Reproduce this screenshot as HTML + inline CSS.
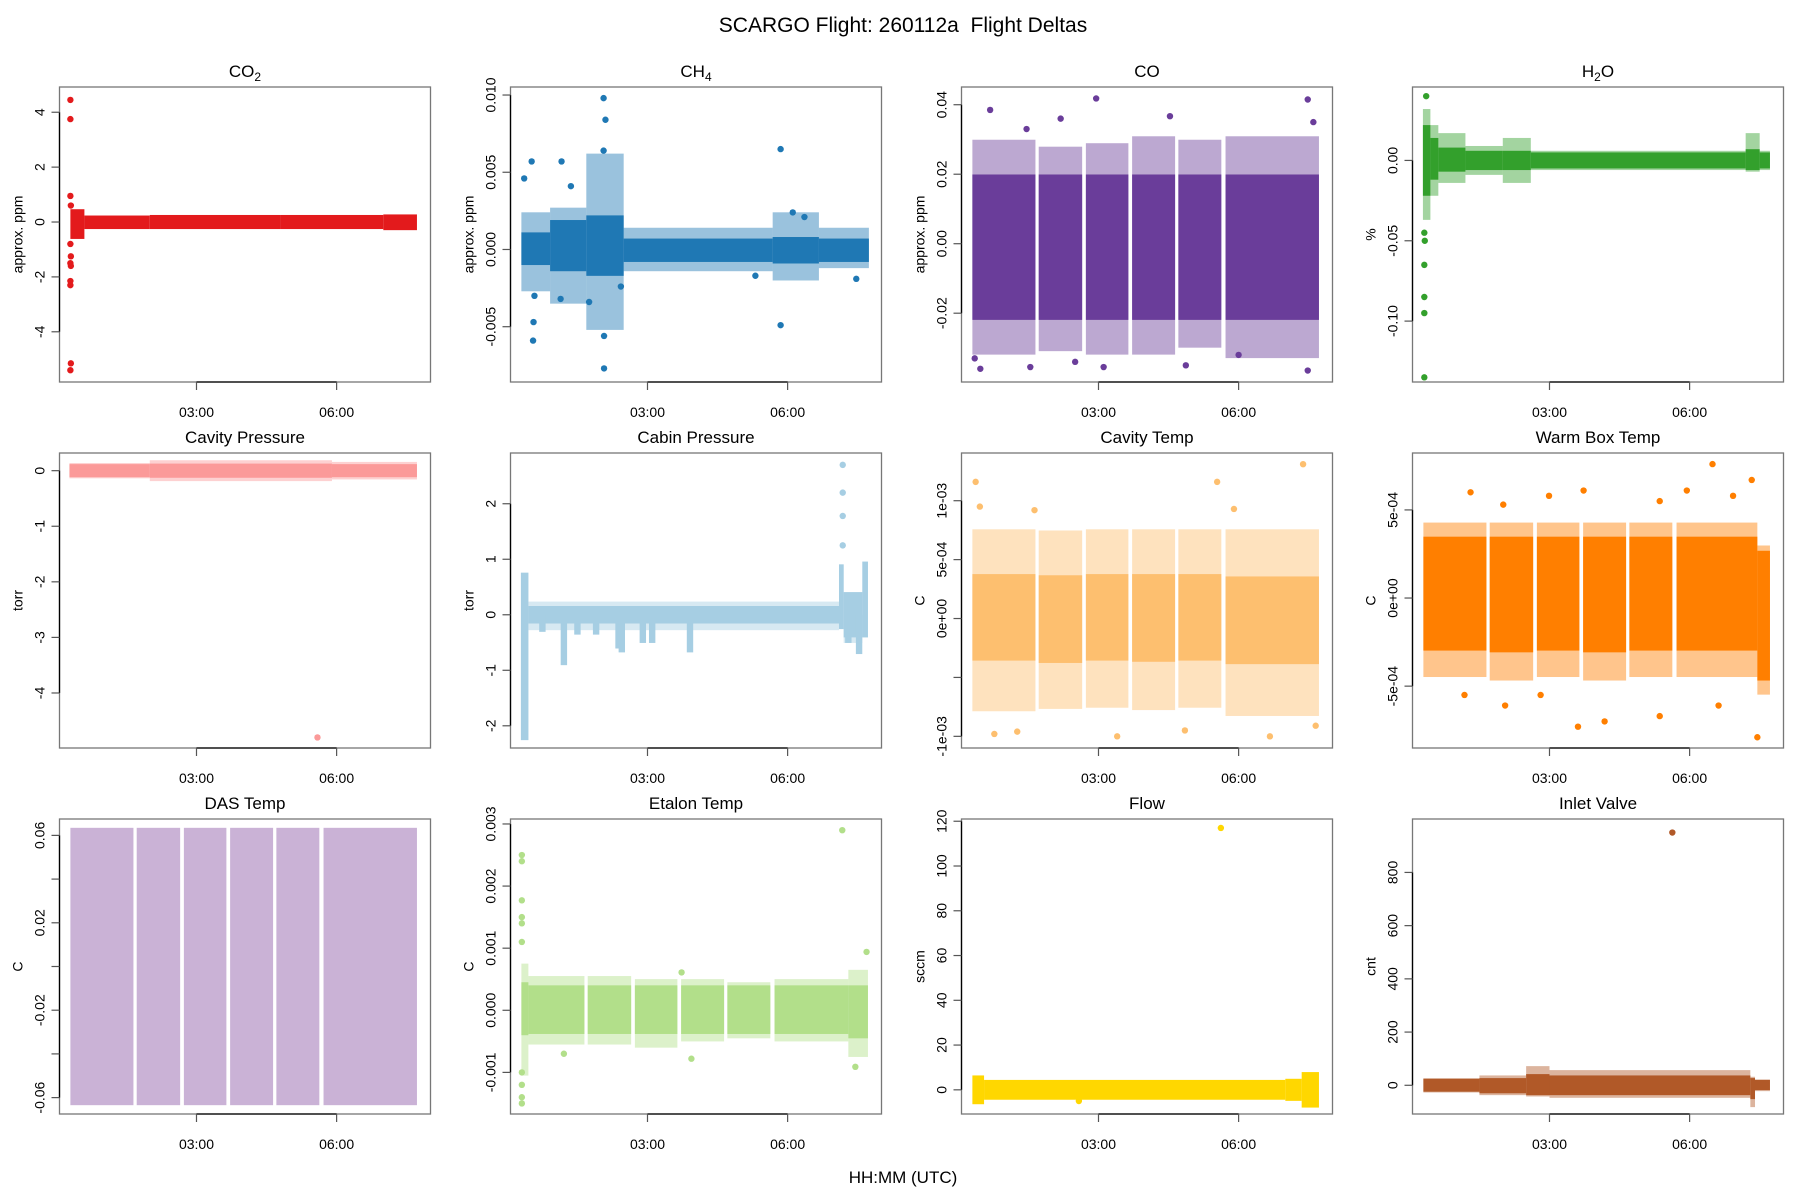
<!DOCTYPE html>
<html><head><meta charset="utf-8"><title>SCARGO Flight Deltas</title>
<style>
html,body{margin:0;padding:0;background:#fff;}
svg{display:block;font-family:"Liberation Sans",Arial,sans-serif;}
</style></head>
<body>
<svg id="chart" width="1800" height="1200" viewBox="0 0 1800 1200" xmlns="http://www.w3.org/2000/svg">
<rect width="1800" height="1200" fill="#fff"/>
<text x="903" y="32" font-size="21" text-anchor="middle">SCARGO Flight: 260112a&#160; Flight Deltas</text>
<text x="903" y="1183" font-size="17" text-anchor="middle">HH:MM (UTC)</text>
<g id="panels"></g>
</svg>
<script>
// ---------- shared data ----------
const xTickHours = [3, 6];
const xTickLabels = ["03:00", "06:00"];
const blockStart = [0.30, 1.72, 2.73, 3.72, 4.71, 5.72];
const blockEnd   = [1.65, 2.65, 3.64, 4.64, 5.63, 7.72];

// CO2
const co2Start=[0.30,0.60,2.0,4.8,7.0];
const co2End=[0.60,2.0,4.8,7.0,7.72];
const co2Lo=[-0.5,-0.14,-0.14,-0.14,-0.18];
const co2Hi=[0.35,0.12,0.14,0.14,0.16];
const co2OutT=[0.30,0.30,0.30,0.31,0.30,0.31,0.30,0.31,0.30,0.30,0.31,0.30];
const co2OutV=[4.45,3.75,0.95,0.6,-0.8,-1.25,-1.5,-1.6,-2.15,-2.3,-5.15,-5.4];
const co2Ticks=[4,2,0,-2,-4];
const co2TickLabels=["4","2","0","-2","-4"];

// CH4
const ch4Start=[0.30,0.915,1.69,2.49,5.68,6.67];
const ch4End=[0.915,1.69,2.49,5.68,6.67,7.74];
const ch4Lo=[-0.0008,-0.0012,-0.0015,-0.0006,-0.0007,-0.0006];
const ch4Hi=[0.0009,0.0017,0.0020,0.0005,0.0006,0.0005];
const ch4FrLo=[-0.0025,-0.0033,-0.0050,-0.0012,-0.0018,-0.0010];
const ch4FrHi=[0.0022,0.0025,0.0060,0.0012,0.0022,0.0012];
const ch4OutT=[0.52,0.55,0.56,0.36,1.16,2.06,2.10,2.07,2.07,5.85,5.85,0.58,1.14,1.36,2.06,1.75,2.43,7.47,5.31,6.11,6.36];
const ch4OutV=[0.0057,-0.0059,-0.0047,0.0046,0.0057,0.0098,0.0084,-0.0077,-0.0056,0.0065,-0.0049,-0.0030,-0.0032,0.0041,0.0064,-0.0034,-0.0024,-0.0019,-0.0017,0.0024,0.0021];
const ch4Ticks=[0.010,0.005,0.000,-0.005];
const ch4TickLabels=["0.010","0.005","0.000","-0.005"];

// CO
const coLo=[-0.021,-0.021,-0.021,-0.021,-0.021,-0.021];
const coHi=[0.019,0.019,0.019,0.019,0.019,0.019];
const coFrLo=[-0.031,-0.030,-0.031,-0.031,-0.029,-0.032];
const coFrHi=[0.029,0.027,0.028,0.030,0.029,0.030];
const coOutT=[0.68,2.95,4.53,7.48,2.19,0.35,0.47,3.11,4.87,7.48,1.54,2.50,7.60,1.46,6.00];
const coOutV=[0.0385,0.0418,0.0367,0.0415,0.036,-0.033,-0.036,-0.0355,-0.035,-0.0365,-0.0355,-0.034,0.035,0.033,-0.032];
const coTicks=[0.04,0.02,0.00,-0.02];
const coTickLabels=["0.04","0.02","0.00","-0.02"];

// H2O
const h2oStart=[0.29,0.45,0.62,1.2,2.0,2.6,7.2,7.5];
const h2oEnd=[0.45,0.62,1.2,2.0,2.6,7.2,7.5,7.72];
const h2oLo=[-0.02,-0.01,-0.005,-0.004,-0.004,-0.003,-0.004,-0.003];
const h2oHi=[0.02,0.012,0.006,0.004,0.004,0.003,0.005,0.003];
const h2oFrLo=[-0.035,-0.02,-0.012,-0.007,-0.012,-0.004,-0.005,-0.004];
const h2oFrHi=[0.03,0.02,0.015,0.007,0.012,0.004,0.015,0.004];
const h2oOutT=[0.33,0.32,0.32,0.32,0.32,0.32,0.36];
const h2oOutV=[-0.05,-0.065,-0.085,-0.095,-0.135,-0.045,0.04];
const h2oTicks=[0.00,-0.05,-0.10];
const h2oTickLabels=["0.00","-0.05","-0.10"];

// Cavity pressure
const cpStart=[0.28,2.0,5.9];
const cpEnd=[2.0,5.9,7.72];
const cpLo=[-0.06,-0.07,-0.06];
const cpHi=[0.06,0.07,0.06];
const cpFrLo=[-0.08,-0.13,-0.1];
const cpFrHi=[0.08,0.13,0.1];
const cpOutT=[5.59];
const cpOutV=[-4.80];
const cpTicks=[0,-1,-2,-3,-4];
const cpTickLabels=["0","-1","-2","-3","-4"];

// Cabin pressure
const cabStart=[0.29,0.45,7.1,7.2,7.6];
const cabEnd=[0.45,7.1,7.2,7.6,7.72];
const cabLo=[-2.2,-0.1,-0.2,-0.35,-0.35];
const cabHi=[0.7,0.1,0.85,0.35,0.9];
const cabFrLo=[-2.2,-0.22,-0.2,-0.45,-0.35];
const cabFrHi=[0.7,0.18,0.85,0.35,0.9];
const cabSpikeT=[1.21,1.50,2.38,2.45,2.90,3.10,3.91,7.53,7.30,0.75,1.9];
const cabSpikeV=[-0.85,-0.3,-0.55,-0.62,-0.45,-0.45,-0.62,-0.65,-0.45,-0.25,-0.3];
const cabOutT=[7.18,7.18,7.18,7.18];
const cabOutV=[2.7,2.2,1.78,1.25];
const cabTicks=[2,1,0,-1,-2];
const cabTickLabels=["2","1","0","-1","-2"];

// Cavity temp
const ctLo=[-3.3e-4,-3.5e-4,-3.3e-4,-3.4e-4,-3.3e-4,-3.6e-4];
const ctHi=[3.5e-4,3.4e-4,3.5e-4,3.5e-4,3.5e-4,3.3e-4];
const ctFrLo=[-7.6e-4,-7.4e-4,-7.3e-4,-7.5e-4,-7.3e-4,-8.0e-4];
const ctFrHi=[7.3e-4,7.2e-4,7.3e-4,7.3e-4,7.3e-4,7.3e-4];
const ctOutT=[0.37,7.38,5.54,0.77,3.40,1.26,6.67,4.85,5.90,1.63,0.46,7.65];
const ctOutV=[1.16e-3,1.31e-3,1.16e-3,-9.8e-4,-1.0e-3,-9.6e-4,-1.0e-3,-9.5e-4,9.3e-4,9.2e-4,9.5e-4,-9.1e-4];
const ctTicks=[1e-3,5e-4,0,-5e-4,-1e-3];
const ctTickLabels=["1e-03","5e-04","0e+00","","-1e-03"];

// Warm box temp
const wbStart=[0.30,1.72,2.73,3.72,4.71,5.72,7.45];
const wbEnd=[1.65,2.65,3.64,4.64,5.63,7.45,7.72];
const wbLo=[-2.8e-4,-2.9e-4,-2.8e-4,-2.9e-4,-2.8e-4,-2.8e-4,-4.5e-4];
const wbHi=[3.3e-4,3.3e-4,3.3e-4,3.3e-4,3.3e-4,3.3e-4,2.5e-4];
const wbFrLo=[-4.3e-4,-4.5e-4,-4.3e-4,-4.5e-4,-4.3e-4,-4.3e-4,-5.3e-4];
const wbFrHi=[4.1e-4,4.1e-4,4.1e-4,4.1e-4,4.1e-4,4.1e-4,2.8e-4];
const wbOutT=[6.49,7.33,1.31,2.99,3.73,5.36,5.94,6.93,2.05,3.61,4.18,5.36,6.62,7.45,2.81,1.18,2.01];
const wbOutV=[7.6e-4,6.7e-4,6.0e-4,5.8e-4,6.1e-4,5.5e-4,6.1e-4,5.8e-4,-6.1e-4,-7.3e-4,-7.0e-4,-6.7e-4,-6.1e-4,-7.9e-4,-5.5e-4,-5.5e-4,5.3e-4];
const wbTicks=[5e-4,0,-5e-4];
const wbTickLabels=["5e-04","0e+00","-5e-04"];

// DAS temp
const dasLo=[-0.062,-0.062,-0.062,-0.062,-0.062,-0.062];
const dasHi=[0.062,0.062,0.062,0.062,0.062,0.062];
const dasTicks=[0.06,0.04,0.02,0,-0.02,-0.04,-0.06];
const dasTickLabels=["0.06","","0.02","","-0.02","","-0.06"];

// Etalon temp
const etStart=[0.30,0.45,1.72,2.73,3.72,4.71,5.72,7.30];
const etEnd=[0.45,1.65,2.65,3.64,4.64,5.63,7.30,7.72];
const etLo=[-3.5e-4,-3.3e-4,-3.3e-4,-3.3e-4,-3.3e-4,-3.3e-4,-3.3e-4,-4.0e-4];
const etHi=[4.0e-4,3.5e-4,3.5e-4,3.5e-4,3.5e-4,3.5e-4,3.5e-4,3.5e-4];
const etFrLo=[-1.0e-3,-5.0e-4,-5.0e-4,-5.5e-4,-4.5e-4,-4.0e-4,-4.5e-4,-7.0e-4];
const etFrHi=[7.0e-4,5.0e-4,5.0e-4,4.5e-4,4.5e-4,4.0e-4,4.5e-4,6.0e-4];
const etOutT=[0.31,0.31,0.31,0.31,0.31,0.31,0.31,0.31,0.31,0.31,7.17,7.69,3.94,1.21,7.45,3.73];
const etOutV=[2.5e-3,2.4e-3,1.77e-3,1.5e-3,1.4e-3,1.1e-3,-1.2e-3,-1.4e-3,-1.5e-3,-1.0e-3,2.9e-3,9.4e-4,-7.8e-4,-7.0e-4,-9.1e-4,6.1e-4];
const etTicks=[0.003,0.002,0.001,0,-0.001];
const etTickLabels=["0.003","0.002","0.001","0.000","-0.001"];

// Flow
const flStart=[0.30,0.55,7.0,7.35];
const flEnd=[0.55,7.0,7.35,7.72];
const flLo=[-5,-3,-3.5,-6.5];
const flHi=[5,3,3.5,6.5];
const flOutT=[5.62,2.58];
const flOutV=[117,-5];
const flTicks=[0,20,40,60,80,100,120];
const flTickLabels=["0","20","40","60","80","100","120"];

// Inlet valve
const ivStart=[0.30,1.5,2.5,3.0,7.3,7.4];
const ivEnd=[1.5,2.5,3.0,7.3,7.4,7.72];
const ivLo=[-12,-18,-25,-25,-40,-6];
const ivHi=[12,15,30,25,15,8];
const ivFrLo=[-15,-25,-30,-35,-70,-10];
const ivFrHi=[15,25,60,45,20,10];
const ivOutT=[5.63];
const ivOutV=[950];
const ivTicks=[0,200,400,600,800];
const ivTickLabels=["0","200","400","600","800"];

// ---------- layout ----------
const rowTops=[87,453,819], boxH=295, colLefts=[59.5,510.5,961.5,1412.5], boxW=371;
const xMin=0.067, xMax=8.01, R=3.2, RX=0;

const panels=[
 {name:"co2",title:["CO","2"],ylab:"approx. ppm",col:"#E31A1C",ylim:[-5.83,4.92],s:co2Start,e:co2End,lo:co2Lo,hi:co2Hi,ot:co2OutT,ov:co2OutV,ticks:co2Ticks,tl:co2TickLabels},
 {name:"ch4",title:["CH","4"],ylab:"approx. ppm",col:"#1F78B4",ylim:[-0.00858,0.01052],s:ch4Start,e:ch4End,lo:ch4Lo,hi:ch4Hi,flo:ch4FrLo,fhi:ch4FrHi,ot:ch4OutT,ov:ch4OutV,ticks:ch4Ticks,tl:ch4TickLabels},
 {name:"co",title:["CO",""],ylab:"approx. ppm",col:"#6A3D9A",ylim:[-0.0398,0.0451],s:blockStart,e:blockEnd,lo:coLo,hi:coHi,flo:coFrLo,fhi:coFrHi,ot:coOutT,ov:coOutV,ticks:coTicks,tl:coTickLabels},
 {name:"h2o",title:["H","2","O"],ylab:"%",col:"#33A02C",ylim:[-0.1379,0.0457],s:h2oStart,e:h2oEnd,lo:h2oLo,hi:h2oHi,flo:h2oFrLo,fhi:h2oFrHi,ot:h2oOutT,ov:h2oOutV,ticks:h2oTicks,tl:h2oTickLabels},
 {name:"cavity-pressure",title:["Cavity Pressure"],ylab:"torr",col:"#FB9A99",ylim:[-4.99,0.318],s:cpStart,e:cpEnd,lo:cpLo,hi:cpHi,flo:cpFrLo,fhi:cpFrHi,ot:cpOutT,ov:cpOutV,ticks:cpTicks,tl:cpTickLabels},
 {name:"cabin-pressure",title:["Cabin Pressure"],ylab:"torr",col:"#A6CEE3",ylim:[-2.40,2.914],s:cabStart,e:cabEnd,lo:cabLo,hi:cabHi,flo:cabFrLo,fhi:cabFrHi,ot:cabOutT,ov:cabOutV,spt:cabSpikeT,spv:cabSpikeV,ticks:cabTicks,tl:cabTickLabels},
 {name:"cavity-temp",title:["Cavity Temp"],ylab:"C",col:"#FDBF6F",ylim:[-1.099e-3,1.405e-3],s:blockStart,e:blockEnd,lo:ctLo,hi:ctHi,flo:ctFrLo,fhi:ctFrHi,ot:ctOutT,ov:ctOutV,ticks:ctTicks,tl:ctTickLabels},
 {name:"warm-box-temp",title:["Warm Box Temp"],ylab:"C",col:"#FF7F00",ylim:[-8.51e-4,8.23e-4],s:wbStart,e:wbEnd,lo:wbLo,hi:wbHi,flo:wbFrLo,fhi:wbFrHi,ot:wbOutT,ov:wbOutV,ticks:wbTicks,tl:wbTickLabels},
 {name:"das-temp",title:["DAS Temp"],ylab:"C",col:"#CAB2D6",ylim:[-0.0675,0.0675],s:blockStart,e:blockEnd,lo:dasLo,hi:dasHi,ot:[],ov:[],ticks:dasTicks,tl:dasTickLabels},
 {name:"etalon-temp",title:["Etalon Temp"],ylab:"C",col:"#B2DF8A",ylim:[-0.00167,0.00308],s:etStart,e:etEnd,lo:etLo,hi:etHi,flo:etFrLo,fhi:etFrHi,ot:etOutT,ov:etOutV,ticks:etTicks,tl:etTickLabels},
 {name:"flow",title:["Flow"],ylab:"sccm",col:"#FFD700",ylim:[-10.8,121],s:flStart,e:flEnd,lo:flLo,hi:flHi,ot:flOutT,ov:flOutV,ticks:flTicks,tl:flTickLabels},
 {name:"inlet-valve",title:["Inlet Valve"],ylab:"cnt",col:"#B15928",ylim:[-107.9,1000.8],s:ivStart,e:ivEnd,lo:ivLo,hi:ivHi,flo:ivFrLo,fhi:ivFrHi,ot:ivOutT,ov:ivOutV,ticks:ivTicks,tl:ivTickLabels}
];

const NS="http://www.w3.org/2000/svg";
function mk(tag,attrs,parent){const el=document.createElementNS(NS,tag);for(const k in attrs)el.setAttribute(k,attrs[k]);parent.appendChild(el);return el;}
const root=document.getElementById("panels");

panels.forEach((p,i)=>{
  const L=colLefts[i%4], T=rowTops[Math.floor(i/4)];
  const xs=t=>L+(t-xMin)/(xMax-xMin)*boxW;
  const ys=v=>T+boxH-(v-p.ylim[0])/(p.ylim[1]-p.ylim[0])*boxH;
  const g=mk("g",{},root);
  
  
  const clip=mk("clipPath",{id:"clip"+i},g);
  mk("rect",{x:L,y:T,width:boxW,height:boxH},clip);
  const d=mk("g",{"clip-path":"url(#clip"+i+")"},g);
  
  
  if(p.flo){
    p.s.forEach((s,k)=>{
      const r=mk("rect",{x:xs(s)-RX,y:ys(p.fhi[k])-R,width:xs(p.e[k])-xs(s)+2*RX,height:ys(p.flo[k])-ys(p.fhi[k])+2*R,fill:p.col,"fill-opacity":0.45},d);
      
      
    });
  }
  p.s.forEach((s,k)=>{
    const r=mk("rect",{x:xs(s)-RX,y:ys(p.hi[k])-R,width:xs(p.e[k])-xs(s)+2*RX,height:ys(p.lo[k])-ys(p.hi[k])+2*R,fill:p.col},d);
    
    
  });
  if(p.spt){
    p.spt.forEach((t,k)=>{
      const r=mk("rect",{x:xs(t)-R,y:ys(0),width:2*R,height:ys(p.spv[k])-ys(0)+R,fill:p.col},d);
      
      
    });
  }
  p.ot.forEach((t,k)=>{
    const c=mk("circle",{cx:xs(t),cy:ys(p.ov[k]),r:R,fill:p.col},d);
    
    
  });
  const bx=mk("rect",{x:L,y:T,width:boxW,height:boxH,fill:"none",stroke:"#777","stroke-width":1.3},g);
  
  
  const xa=mk("g",{},g);
  
  
  mk("line",{x1:xs(xTickHours[0]),x2:xs(xTickHours[xTickHours.length-1]),y1:T+boxH,y2:T+boxH,stroke:"#000","stroke-width":1.3},xa);
  xTickHours.forEach((h,k)=>{
    mk("line",{x1:xs(h),x2:xs(h),y1:T+boxH,y2:T+boxH+8,stroke:"#555","stroke-width":1.2},xa);
    const tx=mk("text",{x:xs(h),y:T+boxH+35,"font-size":14,"text-anchor":"middle"},xa);
    tx.textContent=xTickLabels[k];
    
    
  });
  const ya=mk("g",{},g);
  
  
  mk("line",{x1:L,x2:L,y1:ys(p.ticks[0]),y2:ys(p.ticks[p.ticks.length-1]),stroke:"#000","stroke-width":1.3},ya);
  p.ticks.forEach((v,k)=>{
    mk("line",{x1:L-8,x2:L,y1:ys(v),y2:ys(v),stroke:"#555","stroke-width":1.2},ya);
    if(p.tl[k]!==""){
      const tx=mk("text",{x:0,y:0,"font-size":14,"text-anchor":"middle",transform:`translate(${L-15},${ys(v)}) rotate(-90)`},ya);
      tx.textContent=p.tl[k];
      
      
    }
  });
  const yl=mk("text",{x:0,y:0,"font-size":14,"text-anchor":"middle",transform:`translate(${L-37},${T+boxH/2}) rotate(-90)`},ya);
  yl.textContent=p.ylab;
  
  
  const tt=mk("text",{x:L+boxW/2,y:T-10,"font-size":17,"text-anchor":"middle"},g);
  
  
  if(p.title.length===1){tt.textContent=p.title[0];}
  else{
    const a=mk("tspan",{},tt);a.textContent=p.title[0];
    if(p.title[1]){const b=mk("tspan",{"font-size":12,dy:4},tt);b.textContent=p.title[1];}
    if(p.title[2]){const c=mk("tspan",{dy:-4},tt);c.textContent=p.title[2];}
  }
});
</script>
</body></html>
